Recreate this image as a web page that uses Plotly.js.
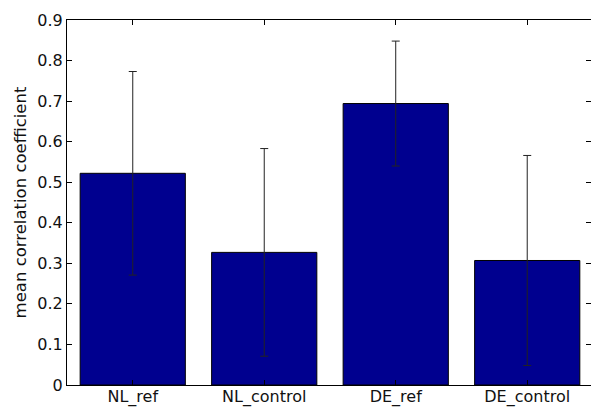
<!DOCTYPE html>
<html>
<head>
<meta charset="utf-8">
<script src="https://cdn.plot.ly/plotly-3.0.1.min.js"></script>
<style>
html,body{margin:0;padding:0;background:#fff;}
#chart{width:591px;height:408px;}
</style>
</head>
<body>
<div id="chart"></div>
<script>
const categories = ["NL_ref", "NL_control", "DE_ref", "DE_control"];
const meanValues = [0.522, 0.327, 0.694, 0.307];
const errorValues = [0.251, 0.256, 0.154, 0.259];

const positions = categories.map((c, i) => i + 1);

const trace = {
  type: "bar",
  x: positions,
  y: meanValues,
  width: 0.8,
  marker: { color: "rgb(0,0,143)", line: { color: "#000", width: 1 } },
  error_y: { type: "data", array: errorValues, visible: true, color: "#222", thickness: 1, width: 4 },
  hoverinfo: "none"
};

const fam = "DejaVu Sans, Verdana, sans-serif";

const layout = {
  width: 591,
  height: 408,
  margin: { l: 67, r: 0, t: 20, b: 23, pad: 0 },
  paper_bgcolor: "#fff",
  plot_bgcolor: "#fff",
  showlegend: false,
  font: { family: fam, size: 16, color: "#000" },
  xaxis: {
    range: [0.5, 4.485],
    tickmode: "array",
    tickvals: positions,
    ticktext: categories,
    ticks: "inside",
    ticklen: 5,
    tickcolor: "#000",
    showline: true,
    linecolor: "#000",
    linewidth: 1,
    mirror: "ticks",
    showgrid: false,
    zeroline: false,
    ticklabelstandoff: -3,
    tickfont: { family: fam, size: 16, color: "#111" }
  },
  yaxis: {
    range: [0, 0.9],
    dtick: 0.1,
    tick0: 0,
    ticks: "inside",
    ticklen: 5,
    tickcolor: "#000",
    showline: true,
    linecolor: "#000",
    linewidth: 1,
    mirror: "ticks",
    showgrid: false,
    zeroline: false,
    tickfont: { family: fam, size: 16, color: "#111" },
    title: { text: "mean correlation coefficient", font: { family: fam, size: 16.5, color: "#111" }, standoff: 6 }
  }
};

Plotly.newPlot("chart", [trace], layout, { displayModeBar: false, staticPlot: true });
</script>
</body>
</html>
